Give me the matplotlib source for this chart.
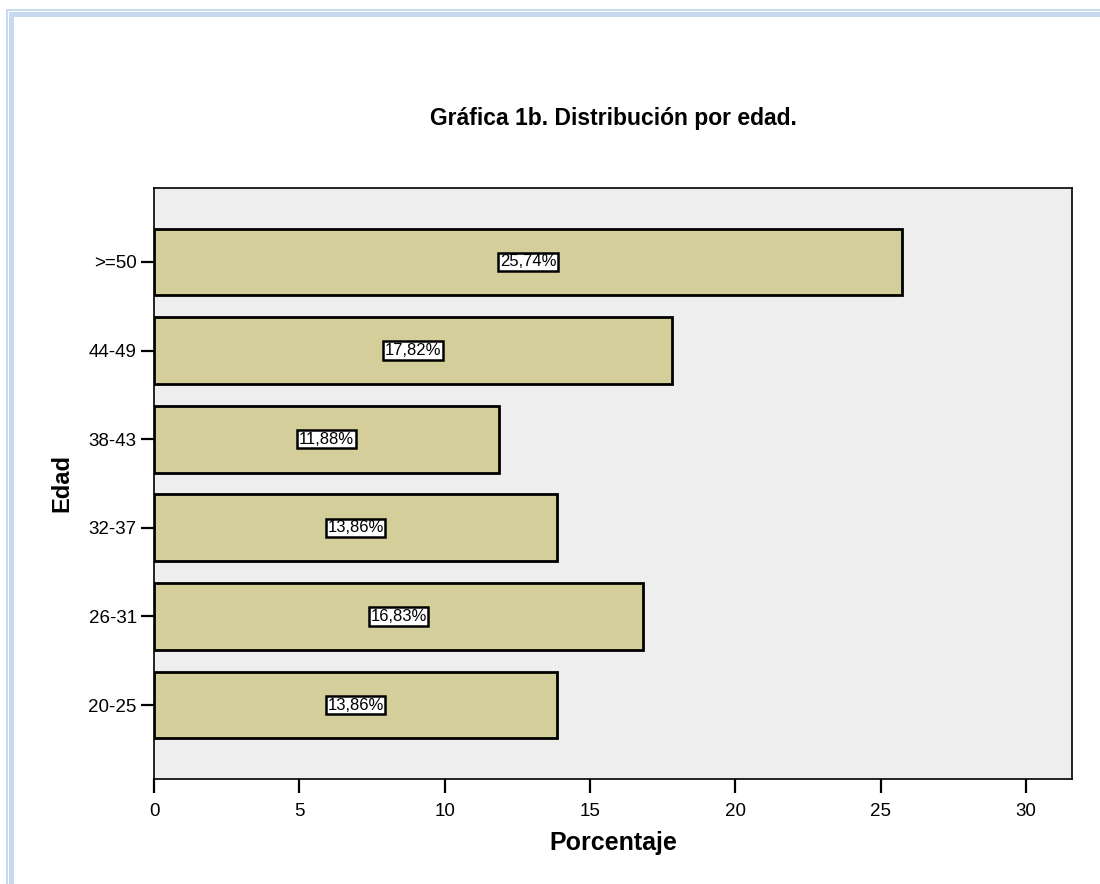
import matplotlib
matplotlib.use("Agg")
import matplotlib.pyplot as plt
from matplotlib.patches import Rectangle

plt.rcParams['font.family'] = ['Liberation Sans', 'DejaVu Sans']

categories = ["20-25", "26-31", "32-37", "38-43", "44-49", ">=50"]
percentages = [13.86, 16.83, 13.86, 11.88, 17.82, 25.74]
xticks = [0, 5, 10, 15, 20, 25, 30]

W, H = 1100, 884
fig = plt.figure(figsize=(W / 100, H / 100), dpi=100)
fig.patch.set_facecolor("white")

# Output frame (light blue double edge on top and left)
frame_col = "#C6D9F1"
fig.patches.append(Rectangle((6 / W, 0), 2 / W, 1 - 9 / H, transform=fig.transFigure,
                             facecolor=frame_col, edgecolor="none"))
fig.patches.append(Rectangle((6 / W, 1 - 11 / H), 1 - 6 / W, 2 / H, transform=fig.transFigure,
                             facecolor=frame_col, edgecolor="none"))
fig.patches.append(Rectangle((9 / W, 0), 5 / W, 1 - 12 / H, transform=fig.transFigure,
                             facecolor=frame_col, edgecolor="none"))
fig.patches.append(Rectangle((9 / W, 1 - 17 / H), 1 - 9 / W, 5 / H, transform=fig.transFigure,
                             facecolor=frame_col, edgecolor="none"))

left, right, top, bottom = 154, 1072, 188, 779
ax = fig.add_axes([left / W, 1 - bottom / H, (right - left) / W, (bottom - top) / H])
ax.set_facecolor("#EEEEEE")

ypos = list(range(len(categories)))
ax.barh(ypos, percentages, height=0.755, color="#D3CE9A", edgecolor="black", linewidth=2, zorder=2)

for y, v in zip(ypos, percentages):
    ax.text(v / 2, y, f"{v:.2f}%".replace(".", ","), ha="center", va="center", fontsize=12,
            zorder=3,
            bbox=dict(boxstyle="square,pad=0.1", facecolor="white", edgecolor="black", linewidth=1.8))

ax.set_xlim(0, 31.58)
ax.set_ylim(-0.835, 5.835)
ax.set_xticks(xticks)
ax.set_xticklabels([str(t) for t in xticks])
ax.set_yticks(ypos)
ax.set_yticklabels(categories)
ax.tick_params(axis="both", direction="out", width=1.6, labelsize=13.5, color="black")
ax.tick_params(axis="x", length=10, pad=7)
ax.tick_params(axis="y", length=9.5, pad=3)

for s in ax.spines.values():
    s.set_linewidth(1.2)
    s.set_color("black")

ax.set_xlabel("Porcentaje", fontsize=18, fontweight="bold", labelpad=8)
ax.set_ylabel("Edad", fontsize=17, fontweight="bold", labelpad=11)

fig.text((left + right) / 2 / W, 1 - 118 / H, "Gráfica 1b. Distribución por edad.",
         ha="center", va="center", fontsize=16.5, fontweight="bold")

fig.savefig("out.png", dpi=100)
